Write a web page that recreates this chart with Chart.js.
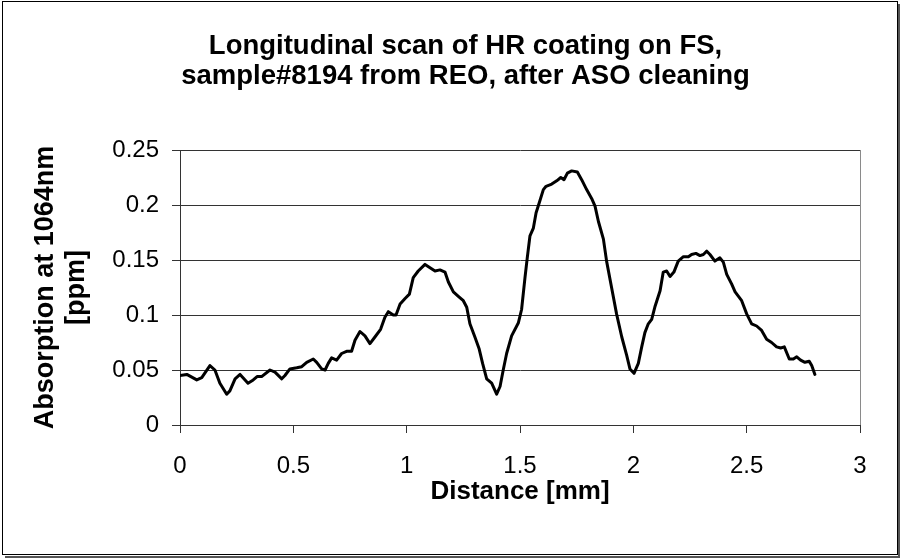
<!DOCTYPE html>
<html>
<head>
<meta charset="utf-8">
<script src="https://cdn.jsdelivr.net/npm/chart.js@4/dist/chart.umd.min.js"></script>
<style>
  html, body { margin: 0; padding: 0; background: #fff; }
  #wrap { width: 901px; height: 559px; }
</style>
</head>
<body>
<div id="wrap"><canvas id="c" width="901" height="559"></canvas></div>
<script>
// ---- data ----
const distanceMm = [
  0.000, 0.030, 0.074, 0.096, 0.132, 0.154, 0.176, 0.206, 0.220, 0.243,
  0.265, 0.287, 0.300, 0.323, 0.340, 0.360, 0.397, 0.419, 0.449, 0.463,
  0.485, 0.515, 0.537, 0.559, 0.588, 0.603, 0.625, 0.640, 0.654, 0.669,
  0.691, 0.713, 0.735, 0.757, 0.772, 0.794, 0.816, 0.838, 0.860, 0.885,
  0.904, 0.919, 0.941, 0.953, 0.971, 0.993, 1.012, 1.029, 1.051, 1.081,
  1.103, 1.125, 1.147, 1.169, 1.184, 1.206, 1.228, 1.250, 1.265, 1.279,
  1.301, 1.320, 1.335, 1.353, 1.375, 1.397, 1.412, 1.426, 1.441, 1.463,
  1.493, 1.507, 1.522, 1.532, 1.544, 1.559, 1.571, 1.585, 1.603, 1.615,
  1.640, 1.662, 1.680, 1.694, 1.709, 1.728, 1.753, 1.772, 1.794, 1.816,
  1.831, 1.846, 1.868, 1.882, 1.904, 1.926, 1.949, 1.971, 1.985, 2.003,
  2.022, 2.037, 2.051, 2.066, 2.081, 2.096, 2.118, 2.132, 2.147, 2.162,
  2.179, 2.198, 2.221, 2.243, 2.257, 2.276, 2.294, 2.309, 2.324, 2.338,
  2.360, 2.382, 2.397, 2.412, 2.434, 2.449, 2.478, 2.500, 2.522, 2.544,
  2.566, 2.588, 2.610, 2.632, 2.650, 2.666, 2.688, 2.706, 2.721, 2.738,
  2.757, 2.776, 2.787, 2.801
];
const absorptionPpm = [
  0.045, 0.046, 0.041, 0.043, 0.054, 0.050, 0.038, 0.028, 0.031, 0.042,
  0.046, 0.041, 0.038, 0.041, 0.044, 0.044, 0.050, 0.048, 0.042, 0.045,
  0.051, 0.052, 0.053, 0.057, 0.060, 0.057, 0.051, 0.050, 0.056, 0.061,
  0.059, 0.065, 0.067, 0.067, 0.077, 0.085, 0.081, 0.074, 0.080, 0.087,
  0.098, 0.103, 0.100, 0.100, 0.110, 0.115, 0.119, 0.134, 0.140, 0.146,
  0.143, 0.140, 0.141, 0.139, 0.130, 0.121, 0.117, 0.113, 0.107, 0.092,
  0.080, 0.069, 0.056, 0.042, 0.038, 0.028, 0.035, 0.050, 0.065, 0.081,
  0.093, 0.105, 0.134, 0.152, 0.172, 0.179, 0.193, 0.202, 0.214, 0.217,
  0.219, 0.222, 0.225, 0.223, 0.229, 0.231, 0.230, 0.223, 0.214, 0.206,
  0.199, 0.185, 0.169, 0.149, 0.125, 0.101, 0.080, 0.063, 0.051, 0.047,
  0.056, 0.071, 0.084, 0.092, 0.096, 0.108, 0.122, 0.139, 0.140, 0.135,
  0.139, 0.149, 0.153, 0.153, 0.155, 0.156, 0.154, 0.155, 0.158, 0.155,
  0.149, 0.152, 0.148, 0.137, 0.128, 0.121, 0.113, 0.101, 0.092, 0.090,
  0.086, 0.078, 0.075, 0.071, 0.070, 0.071, 0.060, 0.060, 0.062, 0.059,
  0.057, 0.058, 0.054, 0.046
];
const xTickLabels = ['0', '0.5', '1', '1.5', '2', '2.5', '3'];
const yTickLabels = ['0', '0.05', '0.1', '0.15', '0.2', '0.25'];
const titleLines = ['Longitudinal scan of HR coating on FS,', 'sample#8194 from REO, after ASO cleaning'];
const xTitle = 'Distance [mm]';
const yTitleLines = ['Absorption at 1064nm', '[ppm]'];

const points = distanceMm.map((d, i) => ({ x: d, y: absorptionPpm[i] }));
const FONT = '"Liberation Sans", Arial, sans-serif';
const GRID = '#333333';

const framePlugin = {
  id: 'frame',
  beforeDraw(chart) {
    const ctx = chart.ctx;
    ctx.save();
    ctx.fillStyle = '#ffffff';
    ctx.fillRect(0, 0, chart.width, chart.height);
    ctx.restore();
  },
  afterDraw(chart) {
    const ctx = chart.ctx;
    const a = chart.chartArea;
    ctx.save();
    ctx.strokeStyle = '#8a8a8a';
    ctx.lineWidth = 1;
    ctx.beginPath();
    ctx.moveTo(Math.round(a.right) + 0.5, a.top);
    ctx.lineTo(Math.round(a.right) + 0.5, a.bottom);
    ctx.stroke();
    ctx.strokeStyle = '#000000';
    ctx.lineWidth = 1;
    ctx.strokeRect(2.5, 1.5, 895, 553);
    ctx.strokeStyle = '#555555';
    ctx.lineWidth = 2;
    ctx.beginPath();
    ctx.moveTo(899, 4);
    ctx.lineTo(899, 557);
    ctx.lineTo(5, 557);
    ctx.stroke();
    ctx.restore();
  }
};

new Chart(document.getElementById('c'), {
  type: 'line',
  data: {
    datasets: [{
      data: points,
      borderColor: '#000000',
      borderWidth: 3,
      pointRadius: 0,
      tension: 0,
      borderJoinStyle: 'round',
      borderCapStyle: 'round',
      fill: false
    }]
  },
  plugins: [framePlugin],
  options: {
    responsive: false,
    animation: false,
    devicePixelRatio: 1,
    layout: { padding: { left: 30, right: 0, top: 0, bottom: 0 } },
    plugins: {
      legend: { display: false },
      tooltip: { enabled: false },
      title: {
        display: true,
        text: titleLines,
        color: '#000',
        font: { family: FONT, size: 27.5, weight: 'bold', lineHeight: 30 / 27.5 },
        padding: { top: 31, bottom: 59 }
      }
    },
    scales: {
      x: {
        type: 'linear',
        min: 0,
        max: 3,
        ticks: {
          stepSize: 0.5,
          color: '#000',
          font: { family: FONT, size: 24 },
          padding: 19,
          maxRotation: 0,
          callback: (v, i) => xTickLabels[i]
        },
        grid: { drawOnChartArea: false, drawTicks: true, tickLength: 8, color: GRID, lineWidth: 1 },
        border: { display: true, color: GRID, width: 1 },
        title: {
          display: true,
          text: xTitle,
          color: '#000',
          font: { family: FONT, size: 26, weight: 'bold', lineHeight: 31 / 26 },
          padding: { top: 0, bottom: 52 }
        },
        afterFit(scale) {
          scale.height = 134;
          scale.paddingRight = 41;
          scale.paddingLeft = 0;
        }
      },
      y: {
        type: 'linear',
        min: 0,
        max: 0.25,
        ticks: {
          stepSize: 0.05,
          color: '#000',
          font: { family: FONT, size: 24 },
          padding: 13,
          callback: (v, i) => yTickLabels[i]
        },
        grid: { drawOnChartArea: true, drawTicks: true, tickLength: 8, color: GRID, lineWidth: 1 },
        border: { display: true, color: GRID, width: 1 },
        title: {
          display: true,
          text: yTitleLines,
          color: '#000',
          font: { family: FONT, size: 27, weight: 'bold', lineHeight: 31 / 27 },
          padding: { top: 0, bottom: 0 }
        },
        afterFit(scale) {
          scale.width = 150;
          scale.paddingTop = 0;
          scale.paddingBottom = 0;
        }
      }
    }
  }
});
</script>
</body>
</html>
